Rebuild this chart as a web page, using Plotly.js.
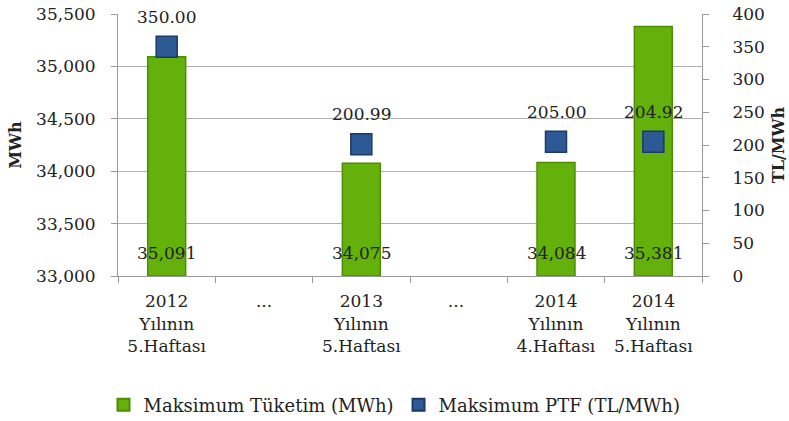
<!DOCTYPE html>
<html><head><meta charset="utf-8">
<script src="https://cdn.plot.ly/plotly-3.0.1.min.js"></script>
<style>body{margin:0;background:#fff}#c{width:789px;height:421px}</style>
</head><body><div id="c"></div>
<script>
const categories = ["2012<br>Yılının<br>5.Haftası", "...", "2013<br>Yılının<br>5.Haftası", "... ", "2014<br>Yılının<br>4.Haftası", "2014<br>Yılının<br>5.Haftası"];
const tuketim = [35091, null, 34075, null, 34084, 35381];
const tuketimLabels = ["35,091", "", "34,075", "", "34,084", "35,381"];
const ptf = [350.00, null, 200.99, null, 205.00, 204.92];
const ptfLabels = ["350.00", "", "200.99", "", "205.00", "204.92"];

const AXIS_MIN = 33000;
const F = "DejaVu Serif, Liberation Serif, serif";
const txt = "#222";
const FS = 17;

const traces = [
  {type:'bar', name:'Maksimum Tüketim (MWh)', x:categories,
   y:tuketim.map(v => v==null ? null : v - AXIS_MIN), base:AXIS_MIN,
   width:0.39,
   marker:{color:'#64b10c', line:{color:'#4e8c06', width:1.5}}, hoverinfo:'skip'},
  {type:'scatter', mode:'markers', name:'Maksimum PTF (TL/MWh)', x:categories, y:ptf, yaxis:'y2',
   marker:{symbol:'square', size:21, color:'#2d5a95', line:{color:'#1c3a66', width:1.5}}, cliponaxis:false}
];

const annotations = [];
categories.forEach((c,i)=>{
  if (ptf[i]!=null) annotations.push({
    x:c, y:ptf[i], xref:'x', yref:'y2', text:ptfLabels[i], showarrow:false,
    yshift:30, font:{family:F,size:FS,color:txt}});
  if (tuketim[i]!=null) annotations.push({
    x:c, y:AXIS_MIN, xref:'x', yref:'y', text:tuketimLabels[i], showarrow:false,
    yanchor:'middle', yshift:23, font:{family:F,size:FS,color:txt}});
});

const layout = {
  width:789, height:421,
  margin:{l:118, r:87, t:14, b:145},
  paper_bgcolor:'#fff', plot_bgcolor:'#fff',
  font:{family:F, size:FS, color:txt},
  showlegend:true,
  legend:{orientation:'h', x:0.5, xanchor:'center', xref:'container', yref:'container', y:0.038, yanchor:'middle',
          font:{family:F,size:18,color:txt}, itemsizing:'constant', itemwidth:30, traceorder:'normal'},
  barmode:'overlay',
  xaxis:{type:'category', categoryorder:'array', categoryarray:categories, automargin:false,
         tickson:'boundaries', ticks:'outside', ticklen:6, tickcolor:'#999', ticklabelstandoff:10,
         showline:true, linecolor:'#999', linewidth:1, showgrid:false,
         tickfont:{family:F,size:FS,color:txt}, fixedrange:true},
  yaxis:{range:[33000,35500], dtick:500, tickformat:',d', ticks:'outside', ticklen:6, tickcolor:'#999',
         ticklabelstandoff:12, automargin:false,
         showline:true, linecolor:'#999', gridcolor:'#b0b0b0', gridwidth:1, zeroline:false,
         tickfont:{family:F,size:FS,color:txt},
         title:{text:'<b>MWh</b>', font:{family:F,size:16,color:txt}, standoff:10}},
  yaxis2:{range:[0,400], dtick:50, overlaying:'y', side:'right', ticks:'outside', ticklen:6, tickcolor:'#999',
          ticklabelstandoff:20, automargin:false,
          showline:true, linecolor:'#999', showgrid:false, zeroline:false,
          tickfont:{family:F,size:FS,color:txt},
          title:{text:'<b>TL/MWh</b>', font:{family:F,size:16,color:txt}, standoff:8}},
  annotations: annotations
};
Plotly.newPlot('c', traces, layout, {displayModeBar:false, staticPlot:true});
</script></body></html>
